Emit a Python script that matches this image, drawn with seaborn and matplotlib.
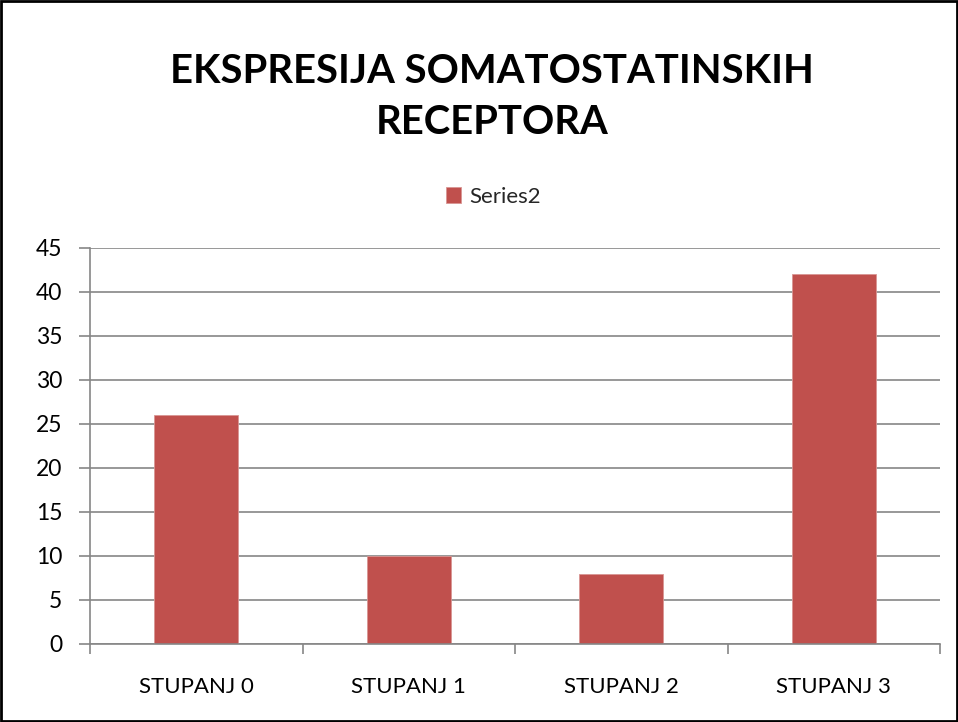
import matplotlib
matplotlib.use("Agg")
import matplotlib.pyplot as plt
import seaborn as sns
import numpy as np
from matplotlib.patches import Rectangle

categories = ["STUPANJ 0", "STUPANJ 1", "STUPANJ 2", "STUPANJ 3"]
values = [26, 10, 8, 42]
series_name = "Series2"
title = "EKSPRESIJA SOMATOSTATINSKIH\nRECEPTORA"
yticks = [0, 5, 10, 15, 20, 25, 30, 35, 40, 45]

sns.set_theme(style="white")
plt.rcParams["font.family"] = ["Lato", "DejaVu Sans"]

fig = plt.figure(figsize=(9.58, 7.22), dpi=100)
ax = fig.add_axes([90/958, 1-644/722, 850/958, (644-248)/722])

bar_color = "#C0504D"
grid_color = "#868686"
sns.barplot(x=categories, y=values, color=bar_color, width=0.395, ax=ax,
            label=series_name, saturation=1, edgecolor="#D99694", linewidth=0.6)

ax.set_ylim(0, 45)
ax.set_xlim(-0.5, 3.5)
ax.set_yticks(yticks)
ax.set_yticklabels([str(t) for t in yticks], fontsize=16.5, color="black")
ax.yaxis.grid(True, color=grid_color, linewidth=1.2)
ax.set_axisbelow(True)
ax.tick_params(axis="y", which="major", length=8, width=1.2, color=grid_color, left=True, pad=12)
ax.set_xticks(range(len(categories)))
ax.set_xticklabels(categories, fontsize=16, color="black")
ax.set_xticks([-0.5, 0.5, 1.5, 2.5, 3.5], minor=True)
ax.tick_params(axis="x", which="major", length=0, pad=24)
ax.tick_params(axis="x", which="minor", length=7, width=1.2, color=grid_color, bottom=True)
for s in ["top", "right"]:
    ax.spines[s].set_visible(False)
for s in ["left", "bottom"]:
    ax.spines[s].set_color(grid_color)
    ax.spines[s].set_linewidth(1.2)
ax.set_xlabel("")
ax.set_ylabel("")

ax.legend(loc="center", bbox_to_anchor=(493/958, 1-197/722), bbox_transform=fig.transFigure,
          frameon=False, fontsize=16, handlelength=0.7, handleheight=0.7, handletextpad=0.35)

fig.text(492/958, 1-97/722, title, ha="center", va="center", fontsize=28.8, fontweight="bold",
         linespacing=1.45, color="black")

fig.patches.append(Rectangle((0.001, 0.001), 0.998, 0.998, transform=fig.transFigure,
                             fill=False, edgecolor="black", linewidth=2))

fig.savefig("out.png", dpi=100, facecolor="white")
